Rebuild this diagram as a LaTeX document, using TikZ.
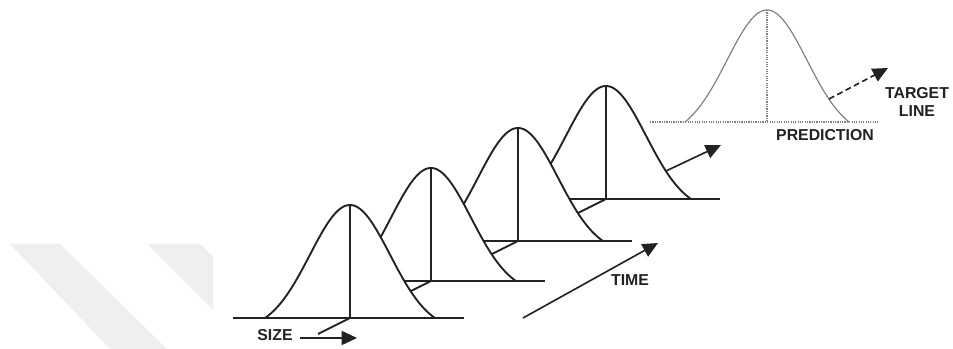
\documentclass[tikz,border=0pt]{standalone}
\usepackage{fontspec}
\setmainfont{Liberation Sans}
\usepackage{tikz}
\usetikzlibrary{arrows.meta,calc}
\definecolor{inkGray}{HTML}{222222}
\definecolor{markGray}{HTML}{EFEFEF}
\definecolor{predGray}{HTML}{808080}

\begin{document}
\begin{tikzpicture}[x=0.03cm, y=-0.03cm,
    rule/.style={draw=inkGray, line width=1.6pt},
    lbl/.style={font=\fontsize{13.5}{15}\selectfont\bfseries, text=inkGray, inner sep=0pt, align=center},
    tip/.style={-{Triangle[length=0.46cm,width=0.42cm]}, draw=inkGray, line width=1.4pt},
    predline/.style={draw=predGray, densely dotted, line width=1pt},
  ]
  \useasboundingbox (0,0) rectangle (953,349);

  % watermark bands
  \fill[markGray] (10,244) -- (60,244) -- (167,349) -- (110,349) -- cycle;
  \fill[markGray] (147,244) -- (200,244) -- (213,257) -- (213,310) -- cycle;

  % prediction
  \coordinate (pk5) at (767,10);
  \coordinate (ft5) at (767,122);
  \coordinate (predL) at (650,122);
  \coordinate (predR) at (878,122);
  \draw[predline] (predL) -- (predR);
  \draw[predline] (pk5) -- (ft5);
  \draw[predGray, line width=1pt] plot[domain=-82:82, samples=80]
    ({767+\x}, {122-112*(exp(-(\x)*(\x)/3200)-0.122)/0.878});

  % size distributions, back to front
  \foreach \i/\cx/\by in {4/606/199, 3/518/241, 2/431/281, 1/350/318} {
    \coordinate (pk\i) at (\cx,\by-113);
    \coordinate (ft\i) at (\cx,\by);
    \coordinate (bl\i) at (\cx-117,\by);
    \coordinate (br\i) at (\cx+114,\by);
    \coordinate (dg\i) at (\cx-32,\by+16);
    \fill[white] plot[domain=-85:85, samples=80]
      ({\cx+\x}, {\by-113*(exp(-(\x)*(\x)/3200)-0.105)/0.895}) -- cycle;
    \draw[rule] (bl\i) -- (br\i);
    \draw[rule] (pk\i) -- (ft\i);
    \draw[rule] (ft\i) -- (dg\i);
    \draw[rule] plot[domain=-85:85, samples=80]
      ({\cx+\x}, {\by-113*(exp(-(\x)*(\x)/3200)-0.105)/0.895});
  }

  \node[lbl] (size) at (275,335) {SIZE};
  \coordinate (sizeA) at (300,338);
  \coordinate (sizeB) at (357,338);
  \draw[tip] (sizeA) -- (sizeB);

  \node[lbl] (time) at (630,280) {TIME};
  \coordinate (timeA) at (523,318);
  \coordinate (timeB) at (658,243);
  \draw[tip] (timeA) -- (timeB);

  \coordinate (fwdA) at (666,171);
  \coordinate (fwdB) at (721,145);
  \draw[tip] (fwdA) -- (fwdB);

  \node[lbl] (pred) at (825,135) {PREDICTION};
  \node[lbl] (target) at (917,102) {TARGET\\LINE};
  \coordinate (tgtA) at (829,99);
  \coordinate (tgtB) at (888,68);
  \draw[tip, dash pattern=on 5pt off 3pt] (tgtA) -- (tgtB);
\end{tikzpicture}
\end{document}
